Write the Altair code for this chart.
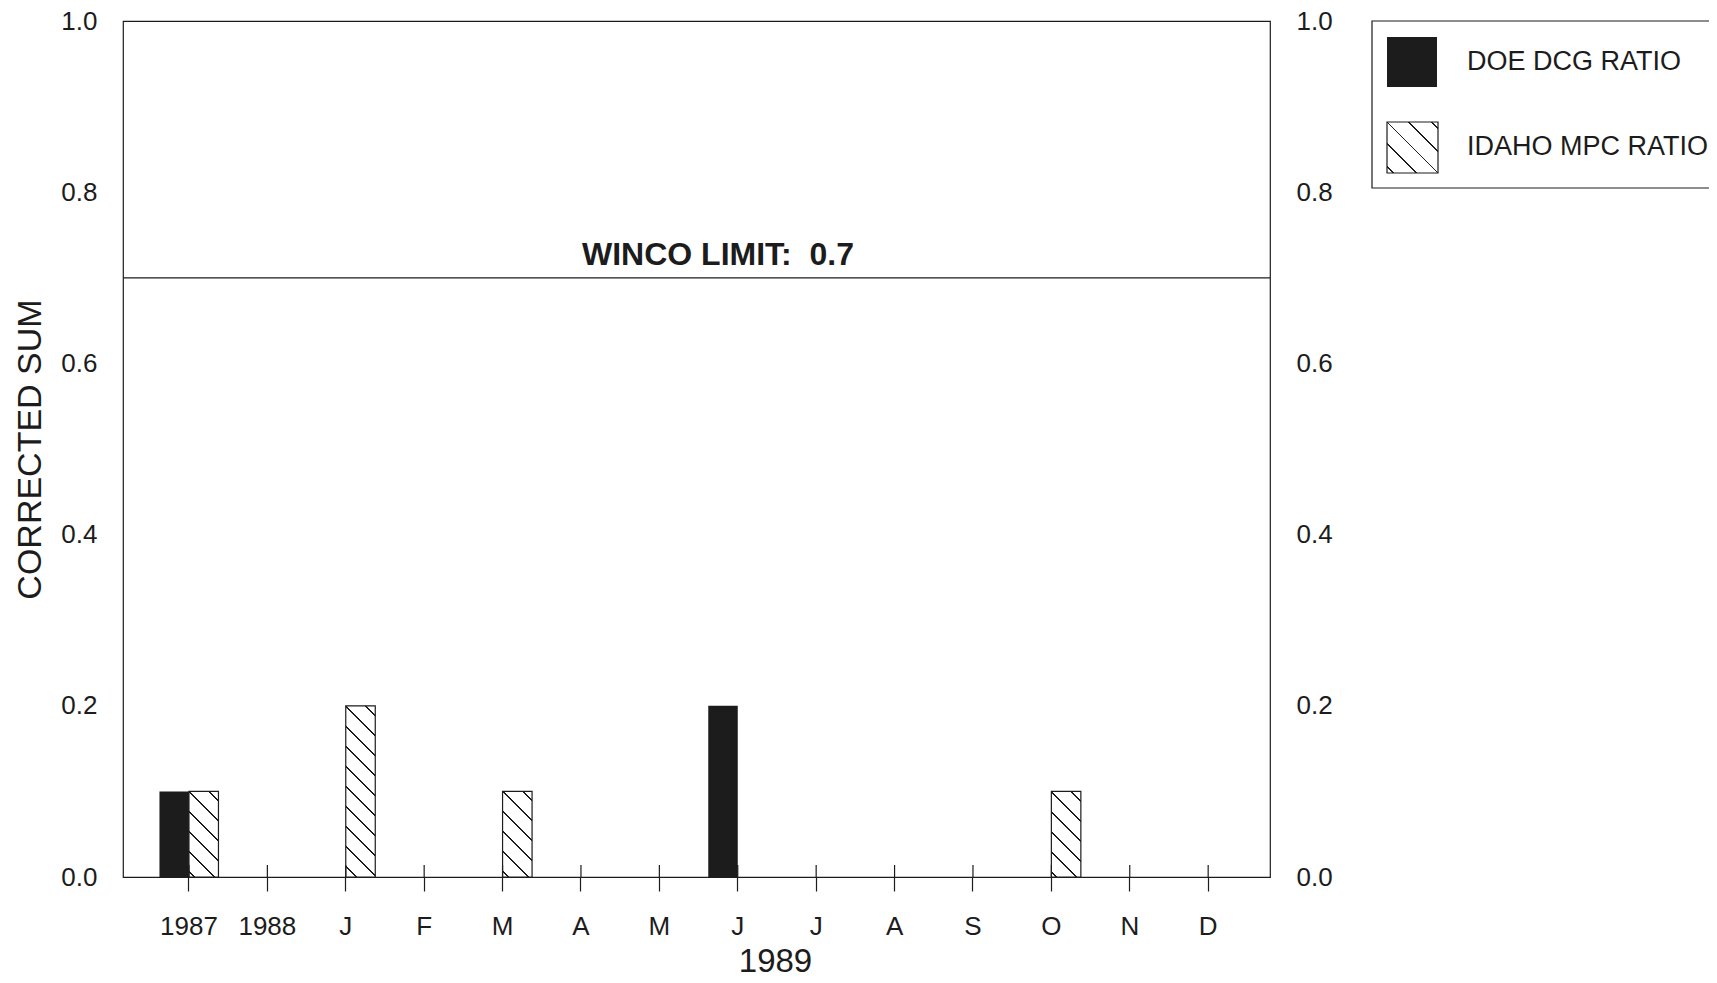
import math
import altair as alt
import pandas as pd

# ---------------- data ----------------
CATEGORIES = ["1987", "1988", "Jan", "Feb", "Mar", "Apr", "May", "Jun",
              "Jul", "Aug", "Sep", "Oct", "Nov", "Dec"]
TICK_LABELS = ["1987", "1988", "J", "F", "M", "A", "M", "J", "J", "A", "S", "O", "N", "D"]
SERIES = ["DOE DCG RATIO", "IDAHO MPC RATIO"]
DOE_VALUES = [0.1, 0, 0, 0, 0, 0, 0, 0.2, 0, 0, 0, 0, 0, 0]
IDAHO_VALUES = [0.1, 0, 0.2, 0, 0.1, 0, 0, 0, 0, 0, 0, 0.1, 0, 0]
Y_TICKS = [0.0, 0.2, 0.4, 0.6, 0.8, 1.0]
LIMIT = 0.7
LIMIT_LABEL = "WINCO LIMIT:\u00a0 0.7"
X_TITLE = "1989"
Y_TITLE = "CORRECTED SUM"

rows = []
for i, c in enumerate(CATEGORIES):
    rows.append({"cat": c, "series": SERIES[0], "value": DOE_VALUES[i]})
    rows.append({"cat": c, "series": SERIES[1], "value": IDAHO_VALUES[i]})
df = pd.DataFrame(rows)

# ---------------- style / layout ----------------
FONT = "Liberation Sans"
INK = "#1c1c1c"
W, H = 1147, 856
PI, PO, ALIGN = 0.2474, 0.4387, 0.53
STEP = W / (len(CATEGORIES) - PI + 2 * PO)
BAR_W = STEP * (1 - PI) / 2


def hatch(w, h, spacing=20.0, thick=2.0):
    span = w + h
    stops = [alt.GradientStop(color="white", offset=0)]
    n_min = math.floor((-w - thick) / spacing)
    n_max = math.ceil((h + thick) / spacing)
    for n in range(n_min, n_max + 1):
        c = n * spacing
        a = max(0.0, min(1.0, (c - thick / 2 + w) / span))
        b = max(0.0, min(1.0, (c + thick / 2 + w) / span))
        if b <= a:
            continue
        a, b = round(a, 5), round(b, 5)
        stops += [alt.GradientStop(color="white", offset=a),
                  alt.GradientStop(color=INK, offset=a),
                  alt.GradientStop(color=INK, offset=b),
                  alt.GradientStop(color="white", offset=b)]
    stops.append(alt.GradientStop(color="white", offset=1))
    k = span / (w * w + h * h)
    return alt.LinearGradient(gradient="linear", stops=stops,
                              x1=1, y1=0, x2=round(1 - k * w, 5), y2=round(k * h, 5))


label_expr = ("[" + ",".join(f"'{t}'" for t in TICK_LABELS) + "][indexof(["
              + ",".join(f"'{c}'" for c in CATEGORIES) + "], datum.value)]")

x_scale = alt.Scale(domain=CATEGORIES, paddingInner=PI, paddingOuter=PO, align=ALIGN)
x_axis = alt.Axis(title=X_TITLE, labelExpr=label_expr, labelAngle=0, labelFontSize=26,
                  labelPadding=22, tickSize=14, tickWidth=1.2, tickColor=INK,
                  domainColor=INK, domainWidth=1.2, bandPosition=0.5, grid=False,
                  titleFontSize=33, titleFontWeight="normal", titleX=652, titleY=94,
                  titleAlign="center", titleBaseline="alphabetic")


def X():
    return alt.X("cat:N", scale=x_scale, axis=x_axis)


XOFF = alt.XOffset("series:N", scale=alt.Scale(domain=SERIES, paddingInner=0, paddingOuter=0))
Y_SCALE = alt.Scale(domain=[0, 1], nice=False, zero=True)

left_axis = alt.Axis(values=Y_TICKS, format=".1f", ticks=False, domain=False, grid=False,
                     labelPadding=26, labelFontSize=26, title=Y_TITLE, titleFontSize=34,
                     titleFontWeight="normal", titleAngle=270, titleX=-83, titleY=428,
                     titleAlign="center", titleBaseline="alphabetic")
right_axis = alt.Axis(orient="right", values=Y_TICKS, format=".1f", ticks=False,
                      domain=False, grid=False, labelPadding=26, labelFontSize=26, title=None)

# DOE bars (solid)
doe = alt.Chart(df).transform_filter(
    f"datum.series == '{SERIES[0]}' && datum.value > 0"
).mark_bar(fill=INK).encode(
    x=X(), xOffset=XOFF, y=alt.Y("value:Q", scale=Y_SCALE, axis=left_axis)
)

# IDAHO bars (hatched), one layer per height so the hatch angle stays 45 degrees
idaho_layers = []
for v in sorted(set(x for x in IDAHO_VALUES if x > 0)):
    idaho_layers.append(
        alt.Chart(df).transform_filter(
            f"datum.series == '{SERIES[1]}' && abs(datum.value - {v}) < 1e-9"
        ).mark_bar(fill=hatch(BAR_W, v * H), stroke=INK, strokeWidth=1.2).encode(
            x=X(), xOffset=XOFF, y=alt.Y("value:Q", scale=Y_SCALE, axis=None)
        )
    )

# upper half of the crossing tick marks
ticks_up = alt.Chart(pd.DataFrame({"cat": CATEGORIES})).mark_rule(
    stroke=INK, strokeWidth=1.2
).encode(x=X(), y=alt.value(H - 12), y2=alt.value(H))

lim_df = pd.DataFrame({"limit": [LIMIT], "label": [LIMIT_LABEL]})
limit_rule = alt.Chart(lim_df).mark_rule(stroke=INK, strokeWidth=1.3).encode(
    y=alt.Y("limit:Q", scale=Y_SCALE, axis=right_axis)
)
limit_text = alt.Chart(lim_df).mark_text(
    font=FONT, fontSize=32, fontWeight="bold", baseline="alphabetic", align="center",
    dy=-13, fill=INK
).encode(x=alt.value(595), y=alt.Y("limit:Q", scale=Y_SCALE, axis=None), text="label:N")

# legend
one = pd.DataFrame({"k": [0]})
leg_box = alt.Chart(one).mark_rect(filled=False, stroke=INK, strokeWidth=1.2).encode(
    x=alt.value(1249), x2=alt.value(1249 + 480), y=alt.value(0), y2=alt.value(167)
)
leg_doe = alt.Chart(one).mark_rect(fill=INK).encode(
    x=alt.value(1264), x2=alt.value(1314), y=alt.value(16), y2=alt.value(66)
)
leg_idaho = alt.Chart(one).mark_rect(fill=hatch(51, 51, spacing=22), stroke=INK,
                                     strokeWidth=1.2).encode(
    x=alt.value(1264), x2=alt.value(1315), y=alt.value(101), y2=alt.value(152)
)
leg_text = alt.Chart(pd.DataFrame({"series": SERIES})).mark_text(
    font=FONT, fontSize=27, align="left", baseline="middle", fill=INK
).encode(
    x=alt.value(1344),
    y=alt.Y("series:N", scale=alt.Scale(domain=SERIES, range=[41, 126], padding=0), axis=None),
    text="series:N",
)

chart = alt.layer(
    doe, *idaho_layers, ticks_up, limit_rule, limit_text,
    leg_box, leg_doe, leg_idaho, leg_text
).resolve_scale(y="independent").properties(
    width=W, height=H,
    autosize=alt.AutoSizeParams(type="none"),
    padding={"left": 115, "top": 13, "right": 439, "bottom": 98},
).configure_view(stroke=INK, strokeWidth=1.2).configure_axis(
    labelFont=FONT, titleFont=FONT, labelColor=INK, titleColor=INK
)

chart.save("out.html", embed_options={"renderer": "svg", "actions": False})
